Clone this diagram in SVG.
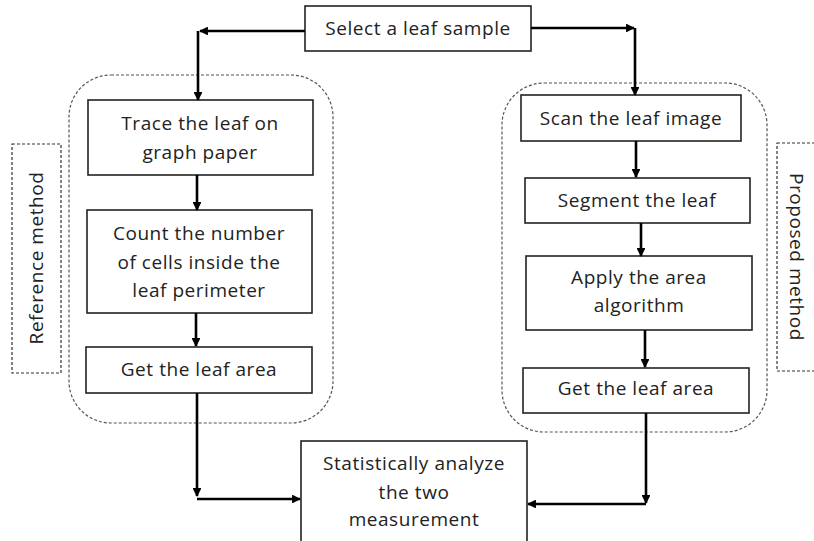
<svg xmlns="http://www.w3.org/2000/svg" width="814" height="541" viewBox="0 0 814 541">
<defs>
<marker id="ah" viewBox="0 0 10 10" refX="9" refY="5" markerWidth="3.4" markerHeight="3.4" orient="auto" markerUnits="strokeWidth">
<path d="M0,0 L10,5 L0,10 z" fill="#000"/>
</marker>
<style>
.box{fill:#fff;stroke:#222;stroke-width:1.6}
.grp{fill:none;stroke:#555;stroke-width:1.2;stroke-dasharray:3 2}
.lbl{fill:none;stroke:#333;stroke-width:1.2;stroke-dasharray:3 2}
.t{font-family:"Open Sans","Noto Sans",sans-serif;font-size:19px;letter-spacing:0.55px;fill:#222;text-anchor:middle;dominant-baseline:central}
.c{fill:none;stroke:#000;stroke-width:2.6;marker-end:url(#ah)}
</style>
</defs>
<rect width="814" height="541" fill="#fff"/>
<g id="groups">
<rect class="grp" x="69" y="75" width="264" height="348" rx="42"/>
<rect class="grp" x="502" y="83" width="265" height="349" rx="42"/>
</g>
<g id="ref-label">
<rect class="lbl" x="12" y="144" width="49" height="229"/>
<text class="t" transform="translate(36,258) rotate(-90)">Reference method</text>
</g>
<g id="prop-label">
<rect class="lbl" x="777" y="143" width="45" height="228"/>
<text class="t" transform="translate(797,257) rotate(90)">Proposed method</text>
</g>
<g id="select">
<rect class="box" x="305" y="6" width="226" height="45"/>
<text class="t" x="418" y="28">Select a leaf sample</text>
</g>
<g id="trace">
<rect class="box" x="88" y="100" width="225" height="75"/>
<text class="t" x="200" y="123">Trace the leaf on</text>
<text class="t" x="200" y="152">graph paper</text>
</g>
<g id="count">
<rect class="box" x="87" y="210" width="225" height="103"/>
<text class="t" x="199" y="233">Count the number</text>
<text class="t" x="199" y="262">of cells inside the</text>
<text class="t" x="199" y="290">leaf perimeter</text>
</g>
<g id="getleft">
<rect class="box" x="86" y="347" width="226" height="46"/>
<text class="t" x="199" y="369">Get the leaf area</text>
</g>
<g id="scan">
<rect class="box" x="521" y="95" width="220" height="46"/>
<text class="t" x="631" y="118">Scan the leaf image</text>
</g>
<g id="segment">
<rect class="box" x="525" y="178" width="225" height="45"/>
<text class="t" x="637" y="200">Segment the leaf</text>
</g>
<g id="apply">
<rect class="box" x="526" y="256" width="226" height="74"/>
<text class="t" x="639" y="277">Apply the area</text>
<text class="t" x="639" y="305">algorithm</text>
</g>
<g id="getright">
<rect class="box" x="523" y="368" width="226" height="45"/>
<text class="t" x="636" y="388">Get the leaf area</text>
</g>
<g id="stats">
<rect class="box" x="301" y="441" width="226" height="110"/>
<text class="t" x="414" y="463">Statistically analyze</text>
<text class="t" x="414" y="492">the two</text>
<text class="t" x="414" y="519">measurement</text>
</g>
<g id="connectors">
<path class="c" d="M305,31 H200"/>
<path class="c" d="M198,31 V100"/>
<path class="c" d="M531,28 H634"/>
<path class="c" d="M635,28 V95"/>
<path class="c" d="M197,175 V210"/>
<path class="c" d="M196,313 V346"/>
<path class="c" d="M197,393 V496"/>
<path class="c" d="M197,499 H300"/>
<path class="c" d="M636,141 V177"/>
<path class="c" d="M641,223 V256"/>
<path class="c" d="M645,330 V367"/>
<path class="c" d="M646,413 V503"/>
<path class="c" d="M646,504 H528"/>
</g>
</svg>
